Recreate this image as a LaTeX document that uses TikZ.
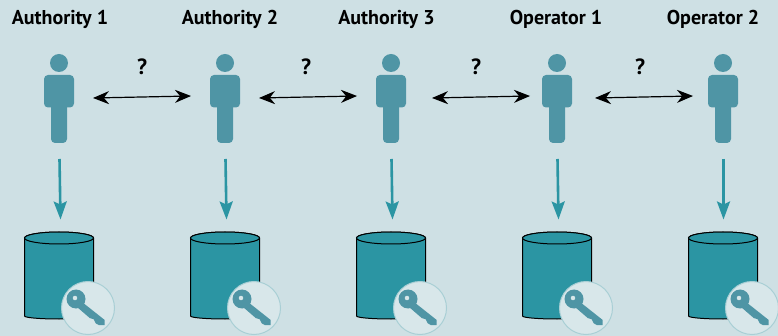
\documentclass[tikz,border=0pt]{standalone}
\usepackage{fontspec}
\setmainfont{PT Sans}
\usetikzlibrary{arrows.meta}
\definecolor{backcol}{HTML}{CEE0E4}
\definecolor{personcol}{HTML}{4F95A5}
\definecolor{storecol}{HTML}{2B95A3}
\definecolor{keycirc}{HTML}{D8E7EA}
\definecolor{keyline}{HTML}{A9CFD5}
\tikzset{
  title/.style={font=\bfseries\fontsize{20}{22}\selectfont,text=black},
  query/.style={font=\bfseries\fontsize{22}{24}\selectfont,text=black},
  link/.style={{Stealth[length=16pt,width=13pt]}-{Stealth[length=16pt,width=13pt]},line width=1.2pt},
  store/.style={-{Stealth[length=18pt,width=13pt,inset=3pt]},storecol,line width=2.6pt}
}
\begin{document}
\begin{tikzpicture}[x=1pt,y=-1pt]
  \fill[backcol] (0,0) rectangle (778,336);
  \useasboundingbox (0,0) rectangle (778,336);
  % titles
  \node[title] (t1) at (60,19) {Authority 1};
  \node[title] (t2) at (230,19) {Authority 2};
  \node[title] (t3) at (386.5,19) {Authority 3};
  \node[title] (t4) at (556,19) {Operator 1};
  \node[title] (t5) at (713,19) {Operator 2};
  % persons, arrows, stores
  \foreach \i/\x/\d in {1/59/1,2/225/1,3/391/1,4/557/1,5/723/0}{
    \fill[personcol] (\x,63) circle (9);
    \fill[personcol,rounded corners=4pt] (\x-15,75) rectangle (\x+15,107.5);
    \fill[personcol,rounded corners=4pt] (\x-8,100) rectangle (\x+8,143);
    \coordinate (a\i) at (\x+.5,159);
    \coordinate (b\i) at (\x+\d+.5,219.5);
    \draw[store] (a\i) -- (b\i);
    \filldraw[storecol,draw=black,line width=1pt] (\x-34.5,238)
      -- (\x-34.5,316) arc[start angle=180,end angle=360,x radius=34.5,y radius=-3]
      -- (\x+34.5,238) arc[start angle=0,end angle=180,x radius=34.5,y radius=-6];
    \draw[black,line width=1pt,fill=storecol] (\x,238) ellipse (34.5 and 6);
    \filldraw[keycirc,draw=keyline,line width=1pt] (\x+29,308) circle (26.5);
    \begin{scope}[shift={(\x+17,299)},personcol]
      \fill[even odd rule] (0,0) circle (9.5) (-1,-1) circle (2.4);
      \fill (6,3) -- (28.7,21) -- (28.7,26) -- (22.7,26) -- (19.7,24.3) -- (17.7,20.3) -- (13.7,19) -- (1,8) -- cycle;
    \end{scope}
  }
  % links between persons
  \foreach \i/\x/\y in {1/93/142,2/259/306,3/432/476,4/595/640}{
    \coordinate (l\i) at (\x,98);
    \coordinate (r\i) at (\x+98,96);
    \draw[link] (l\i) -- (r\i);
    \node[query] (q\i) at (\y,67) {?};
  }
\end{tikzpicture}
\end{document}
